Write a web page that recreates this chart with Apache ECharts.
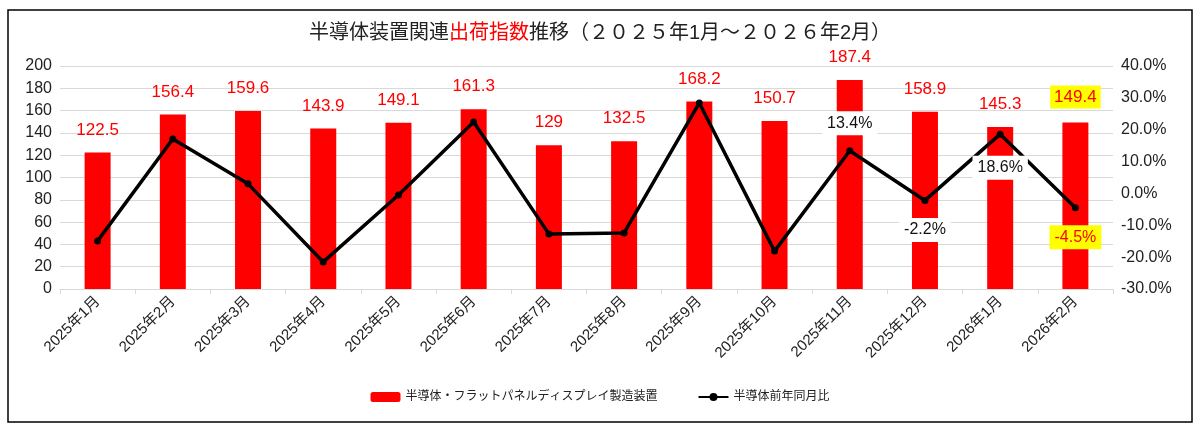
<!DOCTYPE html>
<html><head><meta charset="utf-8">
<script src="https://cdn.jsdelivr.net/npm/echarts@6/dist/echarts.min.js"></script>
<style>html,body{margin:0;background:#fff}#c{width:1200px;height:430px}</style>
</head><body><div id="c"></div>
<script>
// 月
const months = ['2025年1月','2025年2月','2025年3月','2025年4月','2025年5月','2025年6月','2025年7月','2025年8月','2025年9月','2025年10月','2025年11月','2025年12月','2026年1月','2026年2月'];
// 出荷指数
const shipIndex = [122.5,156.4,159.6,143.9,149.1,161.3,129,132.5,168.2,150.7,187.4,158.9,145.3,149.4];
// 前年同月比(%)
const yoy = [-14.9,17.1,3.0,-21.5,-0.5,22.4,-12.7,-12.4,28.4,-18.1,13.4,-2.2,18.6,-4.5];
const yoyLabeled = [10,11,12,13];

const font = '"Liberation Sans","Noto Sans CJK JP",sans-serif';
const last = months.length - 1;

const chart = echarts.init(document.getElementById('c'));
chart.setOption({
  textStyle: { fontFamily: font },
  graphic: [{
    type: 'rect', shape: { x: 8, y: 10, width: 1184, height: 412 },
    style: { fill: 'none', stroke: '#000', lineWidth: 1.5 }, silent: true
  }],
  title: {
    text: '{k|半導体装置関連}{r|出荷指数}{k|推移（２０２５年1月～２０２６年2月）}',
    left: 'center', top: 18,
    textStyle: { rich: {
      k: { fontSize: 20, color: '#222', fontWeight: 'normal', fontFamily: font },
      r: { fontSize: 20, color: '#ff0000', fontWeight: 'normal', fontFamily: font }
    } }
  },
  legend: {
    bottom: 22, itemGap: 40, itemWidth: 30, itemHeight: 10,
    textStyle: { fontSize: 12, color: '#222' },
    data: ['半導体・フラットパネルディスプレイ製造装置', '半導体前年同月比']
  },
  grid: { left: 60, right: 87, top: 66, bottom: 141 },
  xAxis: {
    type: 'category', data: months,
    axisLine: { lineStyle: { color: '#d9d9d9' } },
    axisTick: { show: true, lineStyle: { color: '#d9d9d9' } },
    axisLabel: { rotate: 45, fontSize: 15, color: '#222', margin: 10 }
  },
  yAxis: [{
    type: 'value', min: 0, max: 200, interval: 20,
    axisLabel: { fontSize: 16, color: '#222' },
    splitLine: { lineStyle: { color: '#d9d9d9' } }
  }, {
    type: 'value', min: -30, max: 40, interval: 10,
    axisLabel: { fontSize: 16, color: '#222', formatter: v => v.toFixed(1) + '%' },
    splitLine: { show: false }
  }],
  series: [{
    name: '半導体・フラットパネルディスプレイ製造装置',
    type: 'bar', barWidth: 26, itemStyle: { color: '#ff0000' },
    data: shipIndex.map((v, i) => ({
      value: v,
      label: i === last ? { backgroundColor: '#ffff00', padding: [3, 4] } : {}
    })),
    label: { show: true, position: 'top', distance: 14, fontSize: 17, color: '#ff0000' }
  }, {
    name: '半導体前年同月比',
    type: 'line', yAxisIndex: 1, symbol: 'circle', symbolSize: 7,
    lineStyle: { color: '#000', width: 3.5 }, itemStyle: { color: '#000' },
    data: yoy.map((v, i) => ({
      value: v,
      label: yoyLabeled.includes(i) ? {
        show: true, position: i === 10 ? 'top' : 'bottom',
        distance: i === 10 ? 12 : (i === 12 ? 18 : 14),
        formatter: v.toFixed(1) + '%', fontSize: 16,
        color: i === last ? '#ff0000' : '#111',
        backgroundColor: i === last ? '#ffff00' : '#fff', padding: [4, 5]
      } : { show: false }
    }))
  }]
});
</script></body></html>
